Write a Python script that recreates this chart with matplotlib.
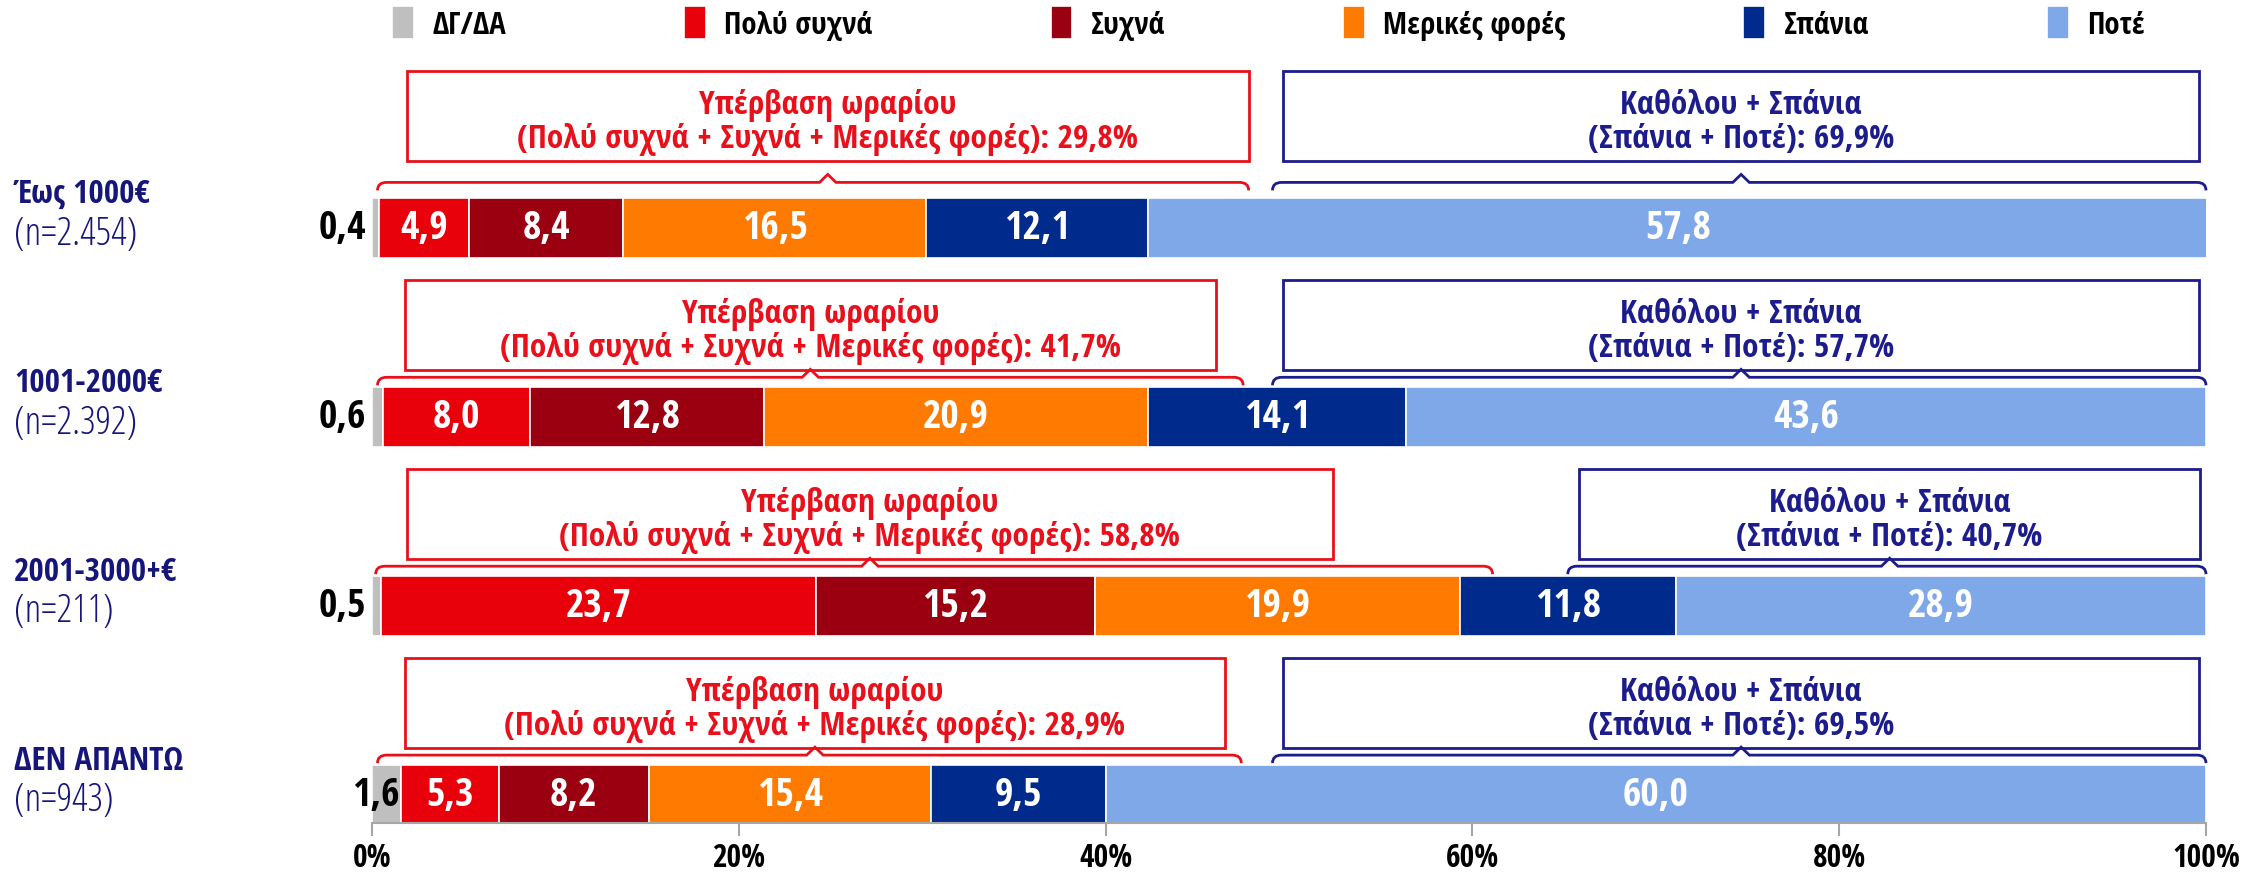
import os
import matplotlib
matplotlib.use('Agg')
import matplotlib.pyplot as plt
import matplotlib.font_manager as fm
from matplotlib.font_manager import FontProperties
from matplotlib.patches import Rectangle, PathPatch
from matplotlib.path import Path
from matplotlib.textpath import TextPath
from matplotlib.transforms import blended_transform_factory

# ---------------- data ----------------
categories = ['Έως 1000€', '1001-2000€', '2001-3000+€', 'ΔΕΝ ΑΠΑΝΤΩ']
sample_sizes = ['(n=2.454)', '(n=2.392)', '(n=211)', '(n=943)']
series_names = ['ΔΓ/ΔΑ', 'Πολύ συχνά', 'Συχνά', 'Μερικές φορές', 'Σπάνια', 'Ποτέ']
dg_da = [0.4, 0.6, 0.5, 1.6]
poly_sychna = [4.9, 8.0, 23.7, 5.3]
sychna = [8.4, 12.8, 15.2, 8.2]
merikes = [16.5, 20.9, 19.9, 15.4]
spania = [12.1, 14.1, 11.8, 9.5]
pote = [57.8, 43.6, 28.9, 60.0]
x_ticks = [0, 20, 40, 60, 80, 100]
over_title = 'Υπέρβαση ωραρίου'
over_sub = '(Πολύ συχνά + Συχνά + Μερικές φορές)'
rare_title = 'Καθόλου + Σπάνια'
rare_sub = '(Σπάνια + Ποτέ)'

# ---------------- fonts ----------------
plt.rcParams['font.family'] = ['Liberation Sans', 'DejaVu Sans']
entries = fm.fontManager.ttflist


def _wnum(w):
    if isinstance(w, str):
        return fm.weight_dict.get(w, 400)
    return w


def _cond_rank(e):
    nm = os.path.basename(e.fname).lower() + ' ' + e.name.lower()
    if 'extracondensed' in nm or 'extra condensed' in nm or 'ultracondensed' in nm:
        return 2
    if 'semicondensed' in nm or 'semi condensed' in nm:
        return 1
    return 0


def _is_cond(e):
    s = str(e.stretch).lower()
    nm = (e.name + ' ' + os.path.basename(e.fname)).lower()
    return 'condensed' in s or 'narrow' in nm or 'condensed' in nm


def pick_font(bold):
    want = 700 if bold else 400
    for base in ['Liberation Sans Narrow', 'Noto Sans', 'Open Sans', 'Roboto']:
        cands = []
        for e in entries:
            if not e.name.startswith(base) or e.style != 'normal':
                continue
            rest = e.name[len(base):].lower()
            for k in ('semi', 'extra', 'ultra', 'condensed', 'narrow', ' '):
                rest = rest.replace(k, '')
            if rest.strip():
                continue
            if base != 'Liberation Sans Narrow' and not _is_cond(e):
                continue
            cands.append(e)
        if cands:
            cands.sort(key=lambda e: (_cond_rank(e), abs(_wnum(e.weight) - want)))
            return FontProperties(fname=cands[0].fname)
    return FontProperties(family=['Liberation Sans', 'DejaVu Sans'],
                          weight='bold' if bold else 'normal')


FP_B = pick_font(True)
FP_R = pick_font(False)
LIB_B = FontProperties(family='Liberation Sans', weight='bold')
LIB_R = FontProperties(family='Liberation Sans', weight='normal')


def _width(s, fp):
    return TextPath((0, 0), s, size=100, prop=fp).get_extents().width


def fp_fit(sample, lib_size, bold=True):
    """Font whose rendering of `sample` is as wide as Liberation Sans at lib_size."""
    base = FP_B if bold else FP_R
    ref = LIB_B if bold else LIB_R
    fp = base.copy()
    fp.set_size(lib_size * _width(sample, ref) / _width(sample, base))
    return fp


fp_val = fp_fit('57,8', 24)
fp_box = fp_fit('(Πολύ συχνά + Συχνά + Μερικές φορές): 29,8%', 20.3)
fp_leg = fp_fit('Πολύ συχνά', 18.5)
fp_cat = fp_fit('1001-2000€', 20)
fp_n = fp_fit('(n=2.454)', 20.5, bold=False)
fp_tick = fp_fit('20%', 19)

# ---------------- style ----------------
colors = ['#BFBFBF', '#E8000B', '#9A000F', '#FF7A00', '#002B8C', '#7FA8E9']
red_c = '#E8101A'
blue_c = '#1C1C8C'
navy_txt = '#15157A'

W, H = 2253, 878
x0_px, x1_px = 372, 2206
axis_px = 824
row0_px = 229.4
row_step = 188.9


def u(px):
    return px / row_step


fig = plt.figure(figsize=(W / 100, H / 100), dpi=100)
ax = fig.add_axes([x0_px / W, 1 - axis_px / H, (x1_px - x0_px) / W, axis_px / H])
ax.set_xlim(0, 100)
ax.set_ylim((axis_px - row0_px) / row_step, -row0_px / row_step)

ys = list(range(len(categories)))
series = [dg_da, poly_sychna, sychna, merikes, spania, pote]
left = [0.0] * len(ys)
containers = []
for k, (name, vals, col) in enumerate(zip(series_names, series, colors)):
    c = ax.barh(ys, vals, left=left, height=u(60), color=col,
                edgecolor='white', linewidth=1.2, label=name)
    containers.append(c)
    for y, v, l in zip(ys, vals, left):
        txt = f'{v:.1f}'.replace('.', ',')
        if k == 0:
            if v < 1:
                ax.text(-0.3, y, txt, ha='right', va='center', color='black',
                        fontproperties=fp_val)
            else:
                ax.text(l + v - 0.1, y, txt, ha='right', va='center',
                        color='black', fontproperties=fp_val)
        else:
            ax.text(l + v / 2, y, txt, ha='center', va='center', color='white',
                    fontproperties=fp_val)
    left = [l + v for l, v in zip(left, vals)]

over_tot = [round(a + b + c, 1) for a, b, c in zip(poly_sychna, sychna, merikes)]
rare_tot = [round(a + b, 1) for a, b in zip(spania, pote)]

# layout of annotation boxes / braces (percent of axis) and vertical shift (px)
red_box = [(1.9, 47.8), (1.8, 46.0), (1.9, 52.4), (1.8, 46.5)]
red_brace = [(0.3, 47.8), (0.3, 47.5), (0.2, 61.1), (0.3, 47.4)]
blue_box = [(49.7, 99.6), (49.7, 99.6), (65.8, 99.7), (49.7, 99.6)]
blue_brace = [(49.1, 100), (49.1, 100), (65.2, 100), (49.1, 100)]
box_shift = [-20, 0, 0, 0]
brace_shift = [-6, 0, 0, 0]


def brace(xa, xb, xm, y, color, sh):
    yl = y - u(40 - sh)
    ye = y - u(32 - sh)
    yp = y - u(48 - sh)
    rx, dx = 0.5, 0.45
    verts = [(xa, ye), (xa, yl), (xa + rx, yl), (xm - dx, yl), (xm, yp),
             (xm + dx, yl), (xb - rx, yl), (xb, yl), (xb, ye)]
    codes = [Path.MOVETO, Path.CURVE3, Path.CURVE3, Path.LINETO, Path.LINETO,
             Path.LINETO, Path.LINETO, Path.CURVE3, Path.CURVE3]
    ax.add_patch(PathPatch(Path(verts, codes), fill=False, edgecolor=color,
                           lw=2, clip_on=False))


def box(xa, xb, y, color, l1, l2, sh):
    top = -137 + sh
    ax.add_patch(Rectangle((xa, y + u(top)), xb - xa, u(90), facecolor='white',
                           edgecolor=color, lw=2, clip_on=False))
    xm = (xa + xb) / 2
    ax.text(xm, y + u(top + 33), l1, ha='center', va='center', color=color,
            fontproperties=fp_box)
    ax.text(xm, y + u(top + 67), l2, ha='center', va='center', color=color,
            fontproperties=fp_box)
    return xm


for i, y in enumerate(ys):
    s1 = f'{over_tot[i]:.1f}'.replace('.', ',')
    xm = box(*red_box[i], y, red_c, over_title, f'{over_sub}: {s1}%', box_shift[i])
    brace(*red_brace[i], xm, y, red_c, brace_shift[i])
    s2 = f'{rare_tot[i]:.1f}'.replace('.', ',')
    xm = box(*blue_box[i], y, blue_c, rare_title, f'{rare_sub}: {s2}%', box_shift[i])
    brace(*blue_brace[i], xm, y, blue_c, brace_shift[i])

# row labels
tr = blended_transform_factory(fig.transFigure, ax.transData)
for y, cat, n in zip(ys, categories, sample_sizes):
    ax.text(14 / W, y - u(35), cat, transform=tr, ha='left', va='center',
            color=navy_txt, fontproperties=fp_cat)
    ax.text(14 / W, y + u(5), n, transform=tr, ha='left', va='center',
            color=navy_txt, fontproperties=fp_n)

# axes styling
for s in ['left', 'top', 'right']:
    ax.spines[s].set_visible(False)
ax.spines['bottom'].set_color('#A6A6A6')
ax.spines['bottom'].set_linewidth(1.5)
ax.set_yticks([])
ax.set_xticks(x_ticks)
ax.set_xticklabels([f'{t}%' for t in x_ticks], fontproperties=fp_tick)
ax.tick_params(axis='x', length=9, width=1.5, color='#A6A6A6', pad=4,
               labelcolor='black')

fig.legend(handles=containers, labels=series_names, loc='center',
           bbox_to_anchor=(0.563, 1 - 24 / H), ncol=6, frameon=False,
           handlelength=0.7, handleheight=1.3, handletextpad=0.6,
           columnspacing=5.8, prop=fp_leg)

fig.savefig('out.png', dpi=100, facecolor='white')
